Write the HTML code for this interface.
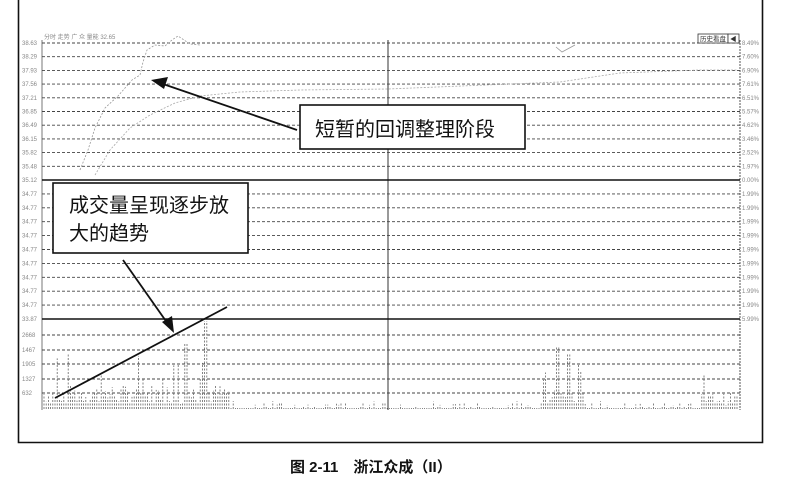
<!DOCTYPE html>
<html><head><meta charset="utf-8">
<style>
html,body{margin:0;padding:0;background:#fff;}
svg{display:block;}
text{font-family:"Liberation Sans","Noto Sans CJK SC",sans-serif;}
</style></head>
<body>
<svg id="s" width="811" height="497" viewBox="0 0 811 497" xmlns="http://www.w3.org/2000/svg">
<rect x="0" y="0" width="811" height="497" fill="#fff"/>
<!-- outer frame -->
<path d="M18.5 0 V442.5 H762.5 V0" fill="none" stroke="#111" stroke-width="1.6"/>
<!-- chart frame -->
<line x1="42" y1="40" x2="42" y2="410" stroke="#777" stroke-width="1"/>
<line x1="740" y1="40" x2="740" y2="410" stroke="#555" stroke-width="1" stroke-dasharray="2,1"/>
<line x1="388" y1="40" x2="388" y2="410" stroke="#333" stroke-width="1"/>
<g id="grid" stroke="#444" stroke-width="0.9" stroke-dasharray="3,2"></g>
<line x1="42" y1="180" x2="740" y2="180" stroke="#111" stroke-width="1.6"/>
<line x1="42" y1="319" x2="740" y2="319" stroke="#111" stroke-width="1.4"/>
<g id="bars" stroke="#666" stroke-width="0.8" stroke-dasharray="2,1.5"></g>
<g id="lab" font-size="6" fill="#888"></g>
<text x="44" y="39" font-size="6" fill="#888">分时 走势 广 众 量能 32.65</text>
<!-- price lines -->
<polyline points="80,170 88,150 95,128 105,108 118,96 132,80 140,75 143,62 147,50 155,45 165,46 172,40 178,36 190,44 200,45" fill="none" stroke="#999" stroke-width="0.8" stroke-dasharray="2,1.5"/>
<polyline points="95,175 110,150 130,128 150,115 175,103 200,96 240,92 300,90 388,89 560,82 620,73 700,70 738,70" fill="none" stroke="#aaa" stroke-width="0.8" stroke-dasharray="2,1.5"/>
<polyline points="556,47 562,52 575,45" fill="none" stroke="#999" stroke-width="0.8"/>
<!-- button -->
<rect x="698" y="34" width="30" height="9" fill="#fff" stroke="#333" stroke-width="0.8"/>
<text x="700" y="41" font-size="6.5" fill="#333">历史看盘</text>
<rect x="728" y="34" width="11" height="9" fill="#fff" stroke="#333" stroke-width="0.8"/>
<text x="730" y="41" font-size="6.5" fill="#333">◀</text>
<!-- box 1 -->
<rect x="300" y="105" width="225" height="44" fill="#fff" stroke="#111" stroke-width="1.6"/>
<text x="315" y="136" font-size="20" fill="#111">短暂的回调整理阶段</text>
<line x1="297" y1="130" x2="163" y2="84" stroke="#111" stroke-width="1.8"/>
<polygon points="151,80 168,77 164,89" fill="#111"/>
<!-- box 2 -->
<rect x="53" y="183" width="195" height="70" fill="#fff" stroke="#111" stroke-width="1.6"/>
<text x="69" y="212" font-size="20" fill="#111">成交量呈现逐步放</text>
<text x="69" y="240" font-size="20" fill="#111">大的趋势</text>
<line x1="123" y1="260" x2="168" y2="324" stroke="#111" stroke-width="1.8"/>
<polygon points="174,333 162,322 172,316" fill="#111"/>
<line x1="55" y1="398" x2="227" y2="307" stroke="#111" stroke-width="1.8"/>
<!-- caption -->
<text x="290" y="472" font-size="15" font-weight="bold" fill="#111" font-family="'Liberation Serif','Noto Serif CJK SC',serif">图 2-11　浙江众成（II）</text>
</svg>
<script>
var ns="http://www.w3.org/2000/svg",g=document.getElementById('grid'),b=document.getElementById('bars'),lb=document.getElementById('lab');
function L(p,a){var e=document.createElementNS(ns,'line');for(var k in a)e.setAttribute(k,a[k]);p.appendChild(e);}
function T(x,y,s){var e=document.createElementNS(ns,'text');e.setAttribute('x',x);e.setAttribute('y',y);e.textContent=s;lb.appendChild(e);}
var ys=[];
for(var i=0;i<10;i++)ys.push(43+i*13.7);
for(var i=1;i<10;i++)ys.push(180+i*13.9);
[335,350,364,379,393].forEach(function(y){ys.push(y)});
ys.forEach(function(y){L(g,{x1:42,y1:y,x2:740,y2:y});});
var pct=["8.49%","7.60%","6.90%","7.61%","6.51%","5.57%","4.62%","3.46%","2.52%","1.97%"];
var lp=["38.63","38.29","37.93","37.56","37.21","36.85","36.49","36.15","35.82","35.48"];
for(var i=0;i<10;i++){T(22,ys[i]+2,lp[i]);T(742,ys[i]+2,pct[i]);}
T(22,182,"35.12");T(742,182,"0.00%");
for(var i=10;i<19;i++){T(22,ys[i]+2,"34.77");T(742,ys[i]+2,"1.99%");}
T(22,321,"33.87");T(742,321,"5.99%");
["2668","1467","1905","1327","632"].forEach(function(s,j){T(22,ys[19+j]+2,s);});
var seed=7;function r(){seed=(seed*9301+49297)%233280;return seed/233280;}
function H(x){
 if(x<230){var h=5+r()*20; if(r()<0.15)h+=20+r()*25; if(Math.abs(x-205)<2)h=88; if(Math.abs(x-185)<2)h=65; if(Math.abs(x-143)<2)h=30;return h;}
 if(x<540)return r()<0.3?2+r()*6:1;
 if(x<585){var h=5+r()*15;if(r()<0.2)h+=20+r()*20;if(Math.abs(x-558)<2)h=62;if(Math.abs(x-568)<2)h=55;return h;}
 if(x<700)return r()<0.3?2+r()*6:1;
 var h=4+r()*12;if(r()<0.2)h+=20+r()*10;return h;}
for(var x=44;x<738;x+=2.2){var h=H(x);L(b,{x1:x,y1:409,x2:x,y2:409-h});}
</script>
</body></html>
